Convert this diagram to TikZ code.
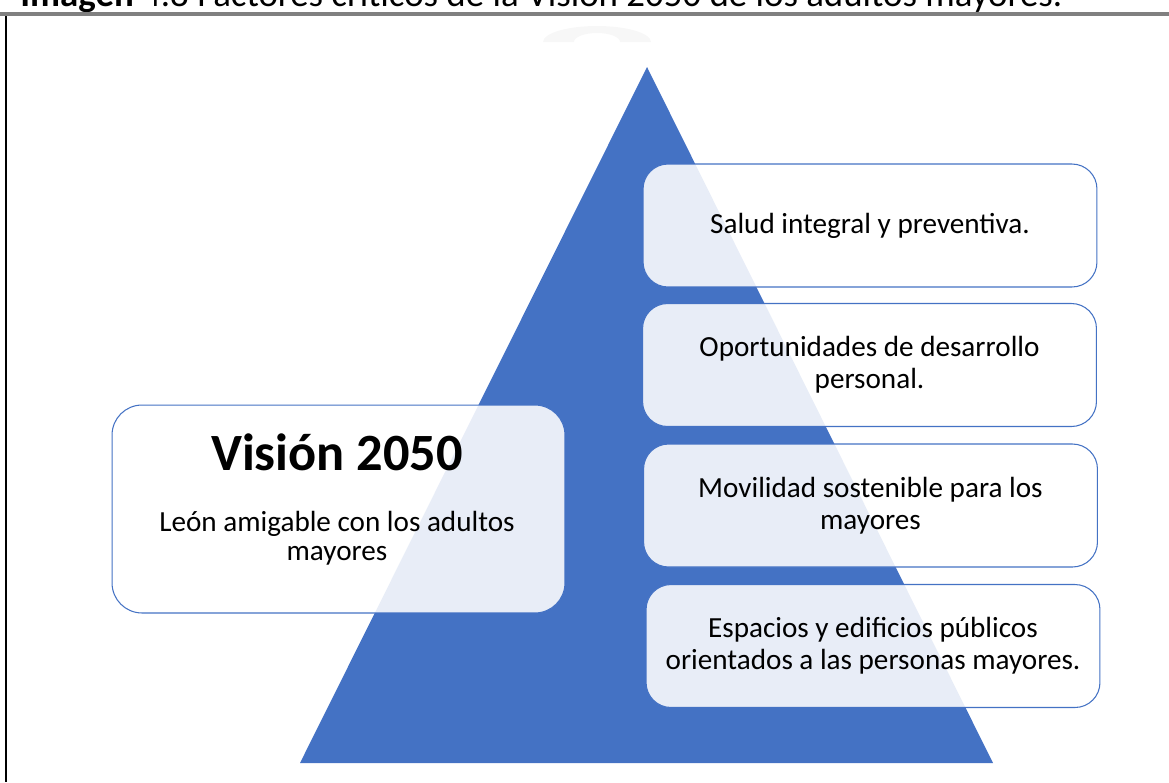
\documentclass[tikz,border=0pt]{standalone}
\usepackage{fontspec}
\setmainfont{Carlito}
\definecolor{pyrblue}{RGB}{68,114,196}
\tikzset{
	factor/.style = {draw=pyrblue, line width=0.6pt, fill=white, fill opacity=0.88, text opacity=1,
		rounded corners=0.5cm, minimum width=9.08cm, minimum height=2.46cm, inner sep=0pt,
		align=center, font=\fontsize{16.6pt}{18.2pt}\selectfont},
	vision/.style = {factor, minimum width=9.06cm, minimum height=4.16cm, rounded corners=0.6cm}
}
\begin{document}
\begin{tikzpicture}[x=0.02cm, y=-0.02cm]
	\useasboundingbox (0,0) rectangle (1169,782);
	\clip (0,0) rectangle (1169,782);
	% caption cut at the top of the page
	\node [anchor=base west, inner sep=0pt, font=\fontsize{21pt}{24pt}\selectfont] (caption) at (20,6.5)
		{\textbf{Imagen} 4.8 Factores críticos de la Visión 2050 de los adultos mayores.};
	\draw [gray, line width=0.08cm] (0,14) -- (1169,14);
	\draw [black, line width=0.05cm] (6,16) -- (6,782);
	% faint watermark
	\fill [gray!6] (543,42) arc [start angle=180, end angle=360, x radius=54, y radius=16] -- (620,42) arc [start angle=360, end angle=180, x radius=23, y radius=9] -- cycle;
	% pyramid
	\coordinate (apex) at (647,67);
	\fill [pyrblue] (apex) -- (300,763) -- (993,763) -- cycle;
	% left box
	\node [vision] (vis) at (338.5,509) {};
	\node [font=\fontsize{29.8pt}{36pt}\selectfont\bfseries] (vistitle) at (337,452) {Visión 2050};
	\node [align=center, font=\fontsize{16.6pt}{16.5pt}\selectfont] (vistext) at (337,538) {León amigable con los adultos\\mayores};
	% factors
	\node [factor] (salud) at (870,225.5) {Salud integral y preventiva.};
	\node [factor] (oport) at (869.5,365) {Oportunidades de desarrollo\\personal.};
	\node [factor] (movil) at (870.5,505.5) {Movilidad sostenible para los\\mayores};
	\node [factor] (espac) at (873,646) {Espacios y edificios públicos\\orientados a las personas mayores.};
\end{tikzpicture}
\end{document}
